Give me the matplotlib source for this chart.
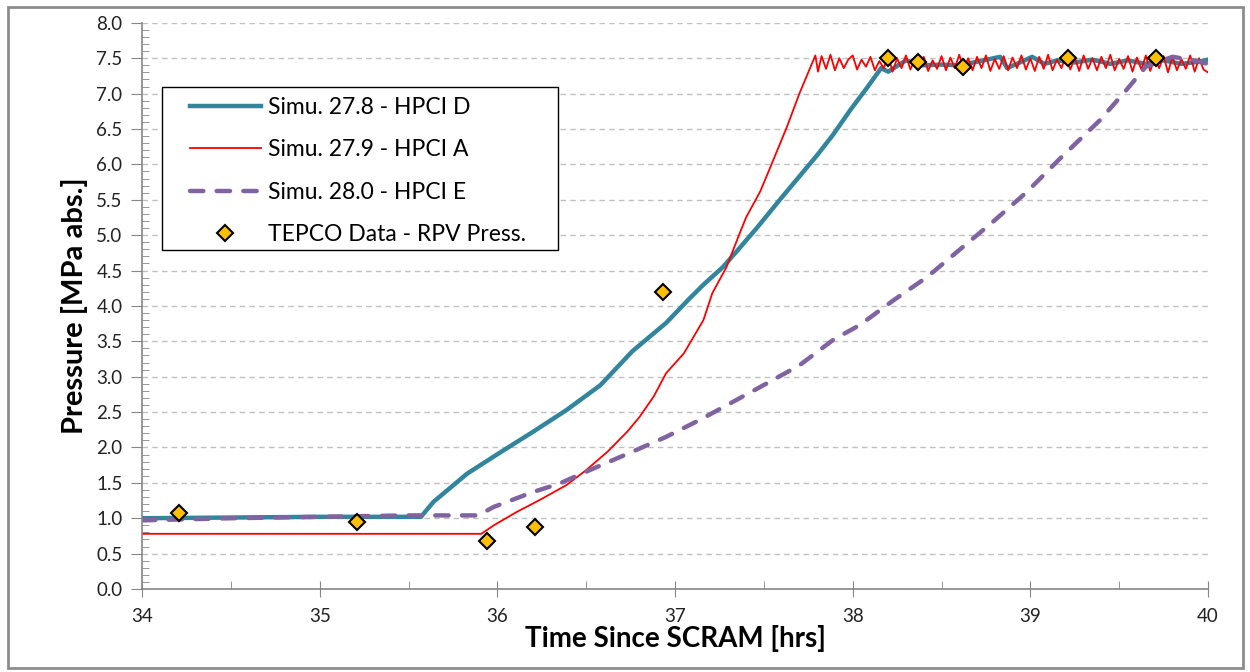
import matplotlib.pyplot as plt
from matplotlib.ticker import MultipleLocator
from matplotlib.patches import Rectangle

# Simu. 27.8 - HPCI D
blue_t = [34.0, 35.0, 35.57, 35.64, 35.83, 36.01, 36.20, 36.39, 36.58, 36.76,
          36.95, 37.08, 37.16, 37.27, 37.34, 37.46, 37.59, 37.74, 37.80, 37.89,
          37.99, 38.08, 38.16, 38.20, 38.30, 38.40, 38.50, 38.60, 38.70, 38.83,
          38.87, 38.95, 39.01, 39.08, 39.15, 39.25, 39.35, 39.45, 39.55, 39.65,
          39.75, 39.85, 39.95, 40.0]
blue_p = [1.00, 1.02, 1.02, 1.23, 1.63, 1.92, 2.22, 2.53, 2.88, 3.36,
          3.76, 4.10, 4.30, 4.55, 4.75, 5.10, 5.50, 5.95, 6.13, 6.42,
          6.78, 7.08, 7.36, 7.31, 7.47, 7.40, 7.41, 7.40, 7.45, 7.52,
          7.36, 7.45, 7.52, 7.42, 7.47, 7.44, 7.48, 7.42, 7.47, 7.42,
          7.47, 7.42, 7.45, 7.48]

# Simu. 27.9 - HPCI A (rise, then pressure cycling around 7.4)
red_t = [34.0, 35.91, 35.98, 36.11, 36.24, 36.39, 36.50, 36.62, 36.73, 36.80,
         36.88, 36.95, 37.05, 37.16, 37.21, 37.29, 37.36, 37.40, 37.48, 37.53,
         37.63, 37.70, 37.74,
         37.790, 37.805, 37.825, 37.850, 37.875, 37.900, 37.925, 37.950, 37.975,
         38.000, 38.025, 38.050, 38.075, 38.100, 38.125, 38.150, 38.175,
         38.200, 38.225, 38.250, 38.275, 38.300, 38.325, 38.350, 38.375,
         38.400, 38.425, 38.450, 38.475, 38.500, 38.525, 38.550, 38.575,
         38.600, 38.625, 38.650, 38.675, 38.700, 38.725, 38.750, 38.775,
         38.800, 38.825, 38.850, 38.875, 38.900, 38.925, 38.950, 38.975,
         39.000, 39.025, 39.050, 39.075, 39.100, 39.125, 39.150, 39.175,
         39.200, 39.225, 39.250, 39.275, 39.300, 39.325, 39.350, 39.375,
         39.400, 39.425, 39.450, 39.475, 39.500, 39.525, 39.550, 39.575,
         39.600, 39.625, 39.650, 39.675, 39.700, 39.725, 39.750, 39.775,
         39.800, 39.825, 39.850, 39.875, 39.900, 39.925, 39.950, 39.975,
         40.000]
red_p = [0.78, 0.78, 0.90, 1.09, 1.26, 1.47, 1.68, 1.94, 2.22, 2.43,
         2.72, 3.05, 3.33, 3.80, 4.18, 4.55, 5.00, 5.25, 5.62, 5.92,
         6.53, 7.00, 7.24,
         7.54, 7.31, 7.53, 7.35, 7.55, 7.33, 7.50, 7.36, 7.48,
         7.54, 7.34, 7.48, 7.38, 7.52, 7.33, 7.46, 7.36,
         7.53, 7.31, 7.50, 7.36, 7.54, 7.34, 7.49, 7.37,
         7.52, 7.32, 7.47, 7.35, 7.53, 7.33, 7.51, 7.36,
         7.55, 7.34, 7.50, 7.33, 7.52, 7.36, 7.54, 7.32,
         7.49, 7.35, 7.53, 7.33, 7.51, 7.36, 7.54, 7.34,
         7.50, 7.32, 7.52, 7.35, 7.55, 7.33, 7.48, 7.36,
         7.53, 7.34, 7.51, 7.32, 7.54, 7.35, 7.50, 7.33,
         7.52, 7.36, 7.55, 7.33, 7.49, 7.35, 7.53, 7.31,
         7.51, 7.34, 7.54, 7.32, 7.50, 7.36, 7.53, 7.30,
         7.52, 7.33, 7.49, 7.35, 7.54, 7.31, 7.50, 7.34,
         7.30]

# Simu. 28.0 - HPCI E
purple_t = [34.0, 34.5, 35.0, 35.5, 35.89, 35.98, 36.20, 36.35, 36.52, 36.76,
            36.95, 37.14, 37.33, 37.52, 37.70, 37.89, 38.04, 38.23, 38.42, 38.60,
            38.79, 38.98, 39.17, 39.39, 39.54, 39.65, 39.80, 39.92, 40.0]
purple_p = [0.97, 1.00, 1.02, 1.04, 1.04, 1.16, 1.37, 1.49, 1.68, 1.94,
            2.15, 2.39, 2.65, 2.91, 3.16, 3.52, 3.73, 4.08, 4.41, 4.79,
            5.19, 5.61, 6.09, 6.62, 7.05, 7.38, 7.52, 7.47, 7.42]

# TEPCO Data - RPV Press.
tepco_t = [34.21, 35.21, 35.94, 36.21, 36.93, 38.20, 38.37, 38.62, 39.21, 39.71]
tepco_p = [1.08, 0.95, 0.68, 0.88, 4.20, 7.50, 7.45, 7.38, 7.50, 7.50]

plt.rcParams['font.family'] = ['Lato', 'DejaVu Sans']

fig = plt.figure(figsize=(12.5, 6.72), dpi=100)
fig.patches.append(Rectangle((0.006, 0.006), 0.988, 0.984, transform=fig.transFigure,
                             fill=False, edgecolor='#8c8c8c', linewidth=2))
ax = fig.add_axes([0.1136, 0.1235, 0.8528, 0.8425])

ax.plot(blue_t, blue_p, color='#31859C', linewidth=3.2, label='Simu. 27.8 - HPCI D')
ax.plot(red_t, red_p, color='#FF0000', linewidth=1.3, label='Simu. 27.9 - HPCI A')
ax.plot(purple_t, purple_p, color='#8064A2', linewidth=3.2, dashes=(3, 3),
        dash_capstyle='round', label='Simu. 28.0 - HPCI E')
ax.plot(tepco_t, tepco_p, linestyle='none', marker='D', markersize=8,
        markerfacecolor='#FFC000', markeredgecolor='black', markeredgewidth=1.5,
        label='TEPCO Data - RPV Press.', zorder=5)

ax.set_xlim(34, 40)
ax.set_ylim(0, 8)
ax.xaxis.set_major_locator(MultipleLocator(1))
ax.xaxis.set_minor_locator(MultipleLocator(0.5))
ax.yaxis.set_major_locator(MultipleLocator(0.5))
ax.yaxis.set_minor_locator(MultipleLocator(0.1))
ax.yaxis.set_major_formatter(lambda v, pos: f'{v:.1f}')

ax.grid(axis='y', which='major', color='#c0c0c0', linestyle=(0, (4, 3)), linewidth=1)
ax.set_axisbelow(True)

for s in ['top', 'right']:
    ax.spines[s].set_visible(False)
for s in ['left', 'bottom']:
    ax.spines[s].set_color('#868686')
    ax.spines[s].set_linewidth(1.2)

ax.tick_params(axis='y', which='major', direction='out', length=8, color='#868686',
               labelsize=13.5, pad=6, labelcolor='#222222')
ax.tick_params(axis='y', which='minor', direction='in', length=5, color='#868686')
ax.tick_params(axis='x', which='major', direction='inout', length=12, color='#868686',
               labelsize=13.5, pad=8, labelcolor='#222222')
ax.tick_params(axis='x', which='minor', direction='in', length=6, color='#868686')

ax.set_xlabel('Time Since SCRAM [hrs]', fontsize=20, fontweight='bold', labelpad=0)
ax.set_ylabel('Pressure [MPa abs.]', fontsize=21, fontweight='bold', labelpad=6)

# legend box drawn separately (wide side padding, tight top/bottom)
ax.add_patch(Rectangle((0.0188, 0.599), 0.3714, 0.288, transform=ax.transAxes,
                       facecolor='white', edgecolor='black', linewidth=1.0, zorder=6))
leg = ax.legend(loc='upper left', bbox_to_anchor=(0.045, 0.869), fontsize=16.5,
                frameon=False, handlelength=3.1, labelspacing=0.93, borderpad=0,
                borderaxespad=0, handletextpad=0.3)
leg.set_zorder(7)

fig.savefig('out.png', dpi=100)
